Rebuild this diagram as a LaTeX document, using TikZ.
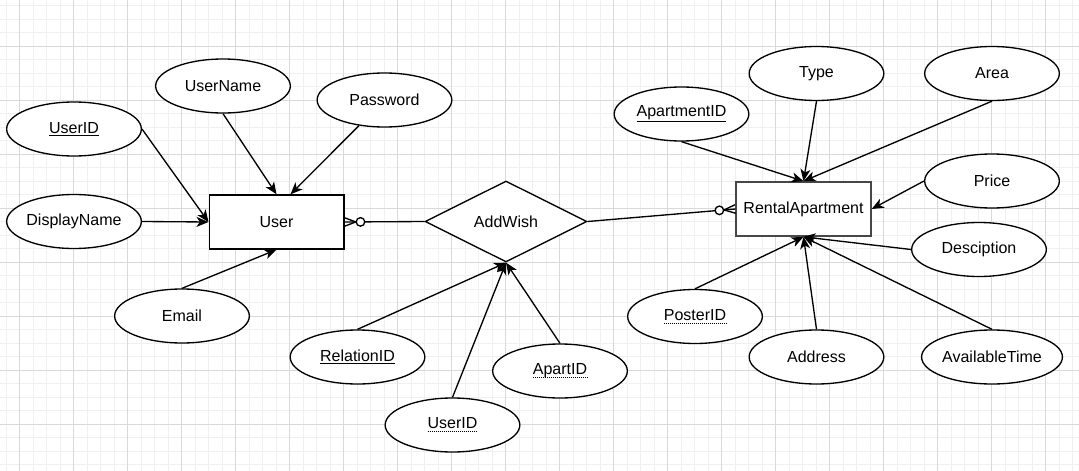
\documentclass[tikz,border=0pt]{standalone}
\usepackage{fontspec}
\setmainfont{Liberation Sans}
\usepackage{tikz}
\usetikzlibrary{calc,arrows.meta,shapes.geometric}
\def\erfoot(#1)(#2){\draw[link] (#1) -- (#2);
	\draw[link] ($(#1)!3.2pt!90:(#2)$) -- ($(#1)!8.5pt!(#2)$) -- ($(#1)!3.2pt!-90:(#2)$);
	\draw[link, fill=white] ($(#1)!12pt!(#2)$) circle (3.2pt);}
\newcommand\dotul[1]{\tikz[baseline=(dl.base)]{\node[rectangle, draw=none, fill=none, minimum width=0pt, minimum height=0pt, inner sep=0pt, outer sep=0pt] (dl) {#1};
	\draw[line width=0.7pt, dash pattern=on 0.7pt off 0.8pt] ([yshift=-2.2pt]dl.base west) -- ([yshift=-2.2pt]dl.base east);}}
\tikzset{
	attr/.style={ellipse, draw, line width=1pt, fill=white, minimum width=101pt, minimum height=40.5pt, inner sep=0pt},
	entity/.style={rectangle, draw, line width=1pt, fill=white, minimum width=101pt, minimum height=40.5pt},
	rel/.style={diamond, draw, line width=1pt, fill=white, minimum width=121.5pt, minimum height=60.75pt, inner sep=0pt},
	link/.style={line width=1pt},
	arrowlink/.style={link, -{Stealth[length=9pt, width=7.5pt, inset=2.5pt]}},
	gridminor/.style={line width=0.6pt, color=black!6},
	gridmajor/.style={line width=0.75pt, color=black!15}
}

\begin{document}
\begin{tikzpicture}[x=0.75pt, y=-0.75pt, font=\fontsize{12}{14}\selectfont]
			%%%%% START %%%%%
			
			\useasboundingbox (0, 0) rectangle (1079, 471);
			\fill[white] (0, 0) rectangle (1079, 471);
			
			\foreach \gx in {0,...,79} \draw[gridminor] ({6+13.5*\gx}, 0) -- ({6+13.5*\gx}, 471);
			\foreach \gy in {0,...,34} \draw[gridminor] (0, {5.5+13.5*\gy}) -- (1079, {5.5+13.5*\gy});
			\foreach \gx in {0,...,19} \draw[gridmajor] ({19.5+54*\gx}, 0) -- ({19.5+54*\gx}, 471);
			\foreach \gy in {0,...,7} \draw[gridmajor] (0, {46+54*\gy}) -- (1079, {46+54*\gy});
			
			\node[entity] (user) at (276.5, 222) {User};
			\node[attr] (userid) at (74, 129) {\underline{UserID}};
			\node[attr] (username) at (223, 86) {UserName};
			\node[attr] (password) at (384.5, 100) {Password};
			\node[attr] (displayname) at (74, 221.5) {DisplayName};
			\node[attr] (email) at (182, 316) {Email};
			
			\node[rel] (wish) at (506, 221.5) {AddWish};
			\node[attr] (relationid) at (357.5, 357) {\underline{RelationID}};
			\node[attr] (wishuserid) at (452.5, 425) {\dotul{UserID}};
			\node[attr] (apartid) at (560, 371) {\dotul{ApartID}};
			
			\node[entity, draw=black!72, line width=1.3pt] (rent) at (803.5, 209) {RentalApartment};
			\node[attr] (apartmentid) at (681.5, 114) {\underline{ApartmentID}};
			\node[attr] (type) at (816.5, 73.5) {Type};
			\node[attr] (area) at (992, 73.5) {Area};
			\node[attr] (price) at (992, 181) {Price};
			\node[attr] (desc) at (979, 249.5) {Desciption};
			\node[attr] (posterid) at (695, 316.5) {\dotul{PosterID}};
			\node[attr] (address) at (816.5, 357) {Address};
			\node[attr] (availtime) at (992, 357) {AvailableTime};
			
			\draw[arrowlink] (userid.east) -- (user.west);
			\draw[arrowlink] (username.south) -- (user.north);
			\draw[arrowlink] (password) -- ($(user.north)+(14, 0)$);
			\draw[arrowlink] (displayname.east) -- (user.west);
			\draw[arrowlink] (email.north) -- (user.south);
			
			\erfoot(user.east)(wish.west)
			\erfoot(rent.west)(wish.east)
			
			\draw[arrowlink] (relationid.north) -- (wish.south);
			\draw[arrowlink] (wishuserid.north) -- (wish.south);
			\draw[arrowlink] (apartid.north) -- (wish.south);
			
			\draw[arrowlink] (apartmentid.south) -- (rent.north);
			\draw[arrowlink] (type.south) -- (rent.north);
			\draw[arrowlink] (area.south) -- (rent.north);
			\draw[arrowlink] (price.west) -- (rent.east);
			\draw[arrowlink] (desc.west) -- (rent.south);
			\draw[arrowlink] (posterid.north) -- (rent.south);
			\draw[arrowlink] (address.north) -- (rent.south);
			\draw[arrowlink] (availtime.north) -- (rent.south);
			
			%%%%% END %%%%%
\end{tikzpicture}
\end{document}
